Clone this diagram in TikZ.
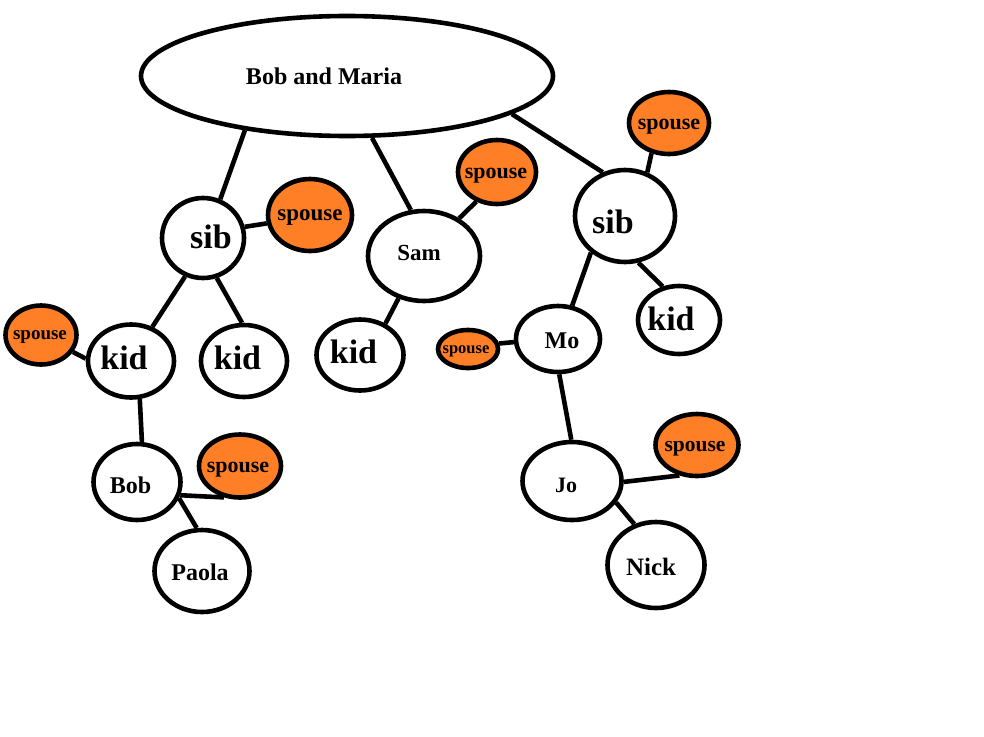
\documentclass[tikz,border=0pt]{standalone}
\usepackage{fontspec}
\setmainfont{Liberation Serif}
\usetikzlibrary{shapes.geometric}
\definecolor{paintorange}{RGB}{255,127,39}
\newcommand\myfs[1]{\fontsize{#1}{#1}\selectfont\bfseries}
\tikzset{
  person/.style={ellipse, draw=black, line width=4.6pt, fill=white, inner sep=0pt},
  spouse/.style={person, fill=paintorange},
  tie/.style={line width=4.6pt, draw=black},
}
\begin{document}
\begin{tikzpicture}[x=1pt,y=-1pt]
\useasboundingbox[fill=white] (0,0) rectangle (984,736);
% top couple
\node[person, minimum width=412pt, minimum height=120pt,
  label={[font=\myfs{24}, xshift=-23pt]center:Bob and Maria}] (bm) at (347,76) {};
% left branch
\node[person, minimum width=82pt, minimum height=80pt,
  label={[font=\myfs{34}, xshift=8pt, yshift=1pt]center:sib}] (sibA) at (203,238) {};
\node[spouse, minimum width=84pt, minimum height=72pt,
  label={[font=\myfs{23}, yshift=-3pt]center:spouse}] (spA) at (310,215) {};
\node[person, minimum width=86pt, minimum height=73pt,
  label={[font=\myfs{34}, xshift=-7pt, yshift=3pt]center:kid}] (kidA) at (131,361) {};
\node[spouse, minimum width=71pt, minimum height=59pt,
  label={[font=\myfs{19}, xshift=-1pt, yshift=-2pt]center:spouse}] (spL) at (41,335) {};
\node[person, minimum width=86pt, minimum height=72pt,
  label={[font=\myfs{34}, xshift=-6.5pt, yshift=3pt]center:kid}] (kidB) at (244,361) {};
\node[person, minimum width=87pt, minimum height=76pt,
  label={[font=\myfs{24}, xshift=-6.5pt, yshift=-3pt]center:Bob}] (bob) at (137,482) {};
\node[spouse, minimum width=82pt, minimum height=63pt,
  label={[font=\myfs{22}, xshift=-2pt, yshift=-4pt]center:spouse}] (spBob) at (240,466) {};
\node[person, minimum width=95pt, minimum height=82pt,
  label={[font=\myfs{24}, xshift=-2pt, yshift=-1pt]center:Paola}] (paola) at (202,571) {};
% middle branch
\node[person, minimum width=112pt, minimum height=90pt,
  label={[font=\myfs{23}, xshift=-5pt, yshift=3pt]center:Sam}] (sam) at (424,256) {};
\node[spouse, minimum width=78pt, minimum height=64pt,
  label={[font=\myfs{22}, xshift=-1pt, yshift=-4pt]center:spouse}] (spSam) at (497,172) {};
\node[person, minimum width=87pt, minimum height=71pt,
  label={[font=\myfs{34}, xshift=-6.5pt, yshift=3pt]center:kid}] (kidSam) at (360,355) {};
% right branch
\node[person, minimum width=100pt, minimum height=92pt,
  label={[font=\myfs{34}, xshift=-12pt, yshift=-6pt]center:sib}] (sibB) at (625,216) {};
\node[spouse, minimum width=80pt, minimum height=62pt,
  label={[font=\myfs{22}, yshift=-4pt]center:spouse}] (spB) at (669,123) {};
\node[person, minimum width=82pt, minimum height=68pt,
  label={[font=\myfs{34}, xshift=-8pt, yshift=1pt]center:kid}] (kidR) at (679,320) {};
\node[person, minimum width=84pt, minimum height=66pt,
  label={[font=\myfs{24}, xshift=4pt, yshift=-2pt]center:Mo}] (mo) at (558,339) {};
\node[spouse, minimum width=60pt, minimum height=38pt,
  label={[font=\myfs{16.5}, xshift=-2pt, yshift=-2.5pt]center:spouse}] (spMo) at (468,349) {};
\node[person, minimum width=99pt, minimum height=78pt,
  label={[font=\myfs{22}, xshift=-6pt, yshift=-4pt]center:Jo}] (jo) at (572,481) {};
\node[spouse, minimum width=83pt, minimum height=62pt,
  label={[font=\myfs{21.5}, xshift=-2pt, yshift=-4pt]center:spouse}] (spJo) at (697,445) {};
\node[person, minimum width=97pt, minimum height=86pt,
  label={[font=\myfs{25}, xshift=-5pt, yshift=-2pt]center:Nick}] (nick) at (656,565) {};
% connectors
\draw[tie] (bm.-152.8) -- (sibA.66);
\draw[tie] (bm.-68) -- (sam.106.6);
\draw[tie] (bm.-13.7) -- (sibB.117.6);
\draw[tie] (sibA.15.6) -- (spA.-169);
\draw[tie] (sam.47.6) -- (spSam.-125);
\draw[tie] (sibB.63.4) -- (spB.-120.7);
\draw[tie] (sibB.-74) -- (kidR.116.6);
\draw[tie] (sibB.-133.5) -- (mo.67.9);
\draw[tie] (mo.-176) -- (spMo.10);
\draw[tie] (mo.-88) -- (jo.91);
\draw[tie] (jo.-1) -- (spJo.-120.7);
\draw[tie] (jo.-26) -- (nick.118.7);
\draw[tie] (sibA.-115) -- (kidA.58);
\draw[tie] (sibA.-71.6) -- (kidB.93);
\draw[tie] (sam.-121.5) -- (kidSam.51.3);
\draw[tie] (kidA.177) -- (spL.-28.6);
\draw[tie] (kidA.-77) -- (bob.83);
\draw[tie] (bob.-17.5) -- (spBob.-117.9);
\draw[tie] (bob.-21.8) -- (paola.97);
\end{tikzpicture}
\end{document}
